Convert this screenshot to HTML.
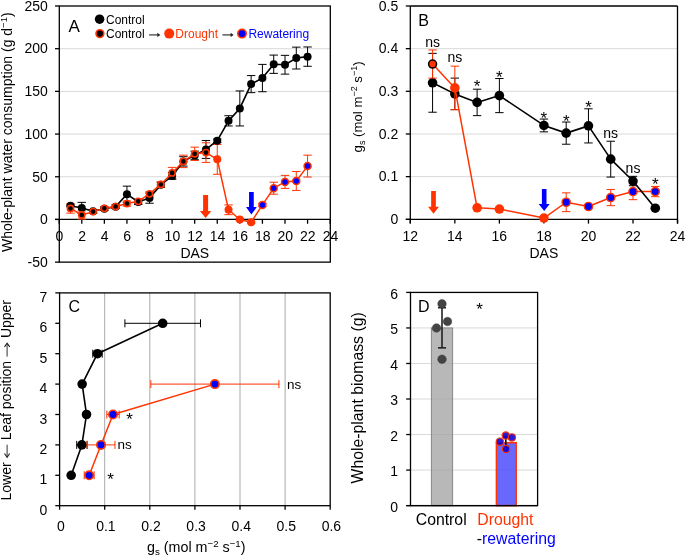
<!DOCTYPE html>
<html><head><meta charset="utf-8"><style>
html,body{margin:0;padding:0;background:#fff;width:685px;height:555px;overflow:hidden}
svg{display:block;will-change:transform}
text{font-family:"Liberation Sans", sans-serif}
</style></head><body>
<svg width="685" height="555" viewBox="0 0 685 555">

<line x1="59.3" y1="176.76" x2="330.3" y2="176.76" stroke="#d9d9d9" stroke-width="1.0" />
<line x1="59.3" y1="134.07" x2="330.3" y2="134.07" stroke="#d9d9d9" stroke-width="1.0" />
<line x1="59.3" y1="91.38" x2="330.3" y2="91.38" stroke="#d9d9d9" stroke-width="1.0" />
<line x1="59.3" y1="48.69" x2="330.3" y2="48.69" stroke="#d9d9d9" stroke-width="1.0" />
<rect x="59.3" y="6" width="271" height="256.14" fill="none" stroke="#000" stroke-width="1.3"/>
<line x1="55" y1="219.45" x2="330.3" y2="219.45" stroke="#000" stroke-width="1.3" />
<line x1="55" y1="262.14" x2="59.3" y2="262.14" stroke="#000" stroke-width="1.3" />
<text x="47.8" y="266.94" font-size="14" text-anchor="end" fill="#000" >-50</text>
<line x1="55" y1="219.45" x2="59.3" y2="219.45" stroke="#000" stroke-width="1.3" />
<text x="47.8" y="224.25" font-size="14" text-anchor="end" fill="#000" >0</text>
<line x1="55" y1="176.76" x2="59.3" y2="176.76" stroke="#000" stroke-width="1.3" />
<text x="47.8" y="181.56" font-size="14" text-anchor="end" fill="#000" >50</text>
<line x1="55" y1="134.07" x2="59.3" y2="134.07" stroke="#000" stroke-width="1.3" />
<text x="47.8" y="138.87" font-size="14" text-anchor="end" fill="#000" >100</text>
<line x1="55" y1="91.38" x2="59.3" y2="91.38" stroke="#000" stroke-width="1.3" />
<text x="47.8" y="96.18" font-size="14" text-anchor="end" fill="#000" >150</text>
<line x1="55" y1="48.69" x2="59.3" y2="48.69" stroke="#000" stroke-width="1.3" />
<text x="47.8" y="53.49" font-size="14" text-anchor="end" fill="#000" >200</text>
<line x1="55" y1="6" x2="59.3" y2="6" stroke="#000" stroke-width="1.3" />
<text x="47.8" y="10.8" font-size="14" text-anchor="end" fill="#000" >250</text>
<line x1="59.2" y1="219.45" x2="59.2" y2="223.75" stroke="#000" stroke-width="1.3" />
<text x="59.5" y="240.8" font-size="14" text-anchor="middle" fill="#000" >0</text>
<line x1="81.78" y1="219.45" x2="81.78" y2="223.75" stroke="#000" stroke-width="1.3" />
<text x="82.08" y="240.8" font-size="14" text-anchor="middle" fill="#000" >2</text>
<line x1="104.36" y1="219.45" x2="104.36" y2="223.75" stroke="#000" stroke-width="1.3" />
<text x="104.66" y="240.8" font-size="14" text-anchor="middle" fill="#000" >4</text>
<line x1="126.94" y1="219.45" x2="126.94" y2="223.75" stroke="#000" stroke-width="1.3" />
<text x="127.24" y="240.8" font-size="14" text-anchor="middle" fill="#000" >6</text>
<line x1="149.52" y1="219.45" x2="149.52" y2="223.75" stroke="#000" stroke-width="1.3" />
<text x="149.82" y="240.8" font-size="14" text-anchor="middle" fill="#000" >8</text>
<line x1="172.1" y1="219.45" x2="172.1" y2="223.75" stroke="#000" stroke-width="1.3" />
<text x="172.4" y="240.8" font-size="14" text-anchor="middle" fill="#000" >10</text>
<line x1="194.68" y1="219.45" x2="194.68" y2="223.75" stroke="#000" stroke-width="1.3" />
<text x="194.98" y="240.8" font-size="14" text-anchor="middle" fill="#000" >12</text>
<line x1="217.26" y1="219.45" x2="217.26" y2="223.75" stroke="#000" stroke-width="1.3" />
<text x="217.56" y="240.8" font-size="14" text-anchor="middle" fill="#000" >14</text>
<line x1="239.84" y1="219.45" x2="239.84" y2="223.75" stroke="#000" stroke-width="1.3" />
<text x="240.14" y="240.8" font-size="14" text-anchor="middle" fill="#000" >16</text>
<line x1="262.42" y1="219.45" x2="262.42" y2="223.75" stroke="#000" stroke-width="1.3" />
<text x="262.72" y="240.8" font-size="14" text-anchor="middle" fill="#000" >18</text>
<line x1="285" y1="219.45" x2="285" y2="223.75" stroke="#000" stroke-width="1.3" />
<text x="285.3" y="240.8" font-size="14" text-anchor="middle" fill="#000" >20</text>
<line x1="307.58" y1="219.45" x2="307.58" y2="223.75" stroke="#000" stroke-width="1.3" />
<text x="307.88" y="240.8" font-size="14" text-anchor="middle" fill="#000" >22</text>
<line x1="330.16" y1="219.45" x2="330.16" y2="223.75" stroke="#000" stroke-width="1.3" />
<text x="330.46" y="240.8" font-size="14" text-anchor="middle" fill="#000" >24</text>
<text x="194.8" y="257.8" font-size="14" text-anchor="middle" fill="#000" >DAS</text>
<text x="12" y="132.2" font-size="14" text-anchor="middle" fill="#000" transform="rotate(-90 12 132.2)">Whole-plant water consumption (g d<tspan dy='-5' font-size='9.5'>−1</tspan><tspan dy='5'>)</tspan></text>
<text x="68.5" y="32.1" font-size="17" text-anchor="start" fill="#000" >A</text>
<circle cx="99.6" cy="19.2" r="4.75" fill="#000" stroke="none" stroke-width="0"/>
<text x="106" y="23.6" font-size="12" text-anchor="start" fill="#000" >Control</text>
<circle cx="99.9" cy="33.6" r="3.9" fill="#000" stroke="#ff3300" stroke-width="1.6"/>
<text x="106" y="38" font-size="12" text-anchor="start" fill="#000" >Control</text>
<line x1="149.1" y1="34.9" x2="157.7" y2="34.9" stroke="#444" stroke-width="1.3" />
<polygon points="157.3,32.7 160.4,34.9 157.3,37.1" fill="#222"/>
<circle cx="169.2" cy="33.6" r="5.0" fill="#ff3300" stroke="none" stroke-width="0"/>
<text x="175.3" y="38" font-size="12" text-anchor="start" fill="#ff3300" >Drought</text>
<line x1="222.4" y1="34.9" x2="231" y2="34.9" stroke="#444" stroke-width="1.3" />
<polygon points="230.6,32.7 233.7,34.9 230.6,37.1" fill="#222"/>
<circle cx="242" cy="33.6" r="4.2" fill="#0000ff" stroke="#ff3300" stroke-width="1.6"/>
<text x="248.4" y="38" font-size="12" text-anchor="start" fill="#0000ff" >Rewatering</text>
<line x1="70.49" y1="204.94" x2="70.49" y2="206.64" stroke="#000" stroke-width="1.0" />
<line x1="66.29" y1="204.94" x2="74.69" y2="204.94" stroke="#000" stroke-width="1.0" />
<line x1="66.29" y1="206.64" x2="74.69" y2="206.64" stroke="#000" stroke-width="1.0" />
<line x1="81.78" y1="202.37" x2="81.78" y2="213.47" stroke="#000" stroke-width="1.0" />
<line x1="77.58" y1="202.37" x2="85.98" y2="202.37" stroke="#000" stroke-width="1.0" />
<line x1="77.58" y1="213.47" x2="85.98" y2="213.47" stroke="#000" stroke-width="1.0" />
<line x1="93.07" y1="209.63" x2="93.07" y2="213.05" stroke="#000" stroke-width="1.0" />
<line x1="88.87" y1="209.63" x2="97.27" y2="209.63" stroke="#000" stroke-width="1.0" />
<line x1="88.87" y1="213.05" x2="97.27" y2="213.05" stroke="#000" stroke-width="1.0" />
<line x1="104.36" y1="207.07" x2="104.36" y2="210.49" stroke="#000" stroke-width="1.0" />
<line x1="100.16" y1="207.07" x2="108.56" y2="207.07" stroke="#000" stroke-width="1.0" />
<line x1="100.16" y1="210.49" x2="108.56" y2="210.49" stroke="#000" stroke-width="1.0" />
<line x1="115.65" y1="204.94" x2="115.65" y2="208.35" stroke="#000" stroke-width="1.0" />
<line x1="111.45" y1="204.94" x2="119.85" y2="204.94" stroke="#000" stroke-width="1.0" />
<line x1="111.45" y1="208.35" x2="119.85" y2="208.35" stroke="#000" stroke-width="1.0" />
<line x1="126.94" y1="186.15" x2="126.94" y2="202.37" stroke="#000" stroke-width="1.0" />
<line x1="122.74" y1="186.15" x2="131.14" y2="186.15" stroke="#000" stroke-width="1.0" />
<line x1="122.74" y1="202.37" x2="131.14" y2="202.37" stroke="#000" stroke-width="1.0" />
<line x1="138.23" y1="199.39" x2="138.23" y2="204.51" stroke="#000" stroke-width="1.0" />
<line x1="134.03" y1="199.39" x2="142.43" y2="199.39" stroke="#000" stroke-width="1.0" />
<line x1="134.03" y1="204.51" x2="142.43" y2="204.51" stroke="#000" stroke-width="1.0" />
<line x1="149.52" y1="192.98" x2="149.52" y2="203.23" stroke="#000" stroke-width="1.0" />
<line x1="145.32" y1="192.98" x2="153.72" y2="192.98" stroke="#000" stroke-width="1.0" />
<line x1="145.32" y1="203.23" x2="153.72" y2="203.23" stroke="#000" stroke-width="1.0" />
<line x1="160.81" y1="182.31" x2="160.81" y2="187.43" stroke="#000" stroke-width="1.0" />
<line x1="156.61" y1="182.31" x2="165.01" y2="182.31" stroke="#000" stroke-width="1.0" />
<line x1="156.61" y1="187.43" x2="165.01" y2="187.43" stroke="#000" stroke-width="1.0" />
<line x1="172.1" y1="172.49" x2="172.1" y2="179.32" stroke="#000" stroke-width="1.0" />
<line x1="167.9" y1="172.49" x2="176.3" y2="172.49" stroke="#000" stroke-width="1.0" />
<line x1="167.9" y1="179.32" x2="176.3" y2="179.32" stroke="#000" stroke-width="1.0" />
<line x1="183.39" y1="156.7" x2="183.39" y2="166.09" stroke="#000" stroke-width="1.0" />
<line x1="179.19" y1="156.7" x2="187.59" y2="156.7" stroke="#000" stroke-width="1.0" />
<line x1="179.19" y1="166.09" x2="187.59" y2="166.09" stroke="#000" stroke-width="1.0" />
<line x1="194.68" y1="151.15" x2="194.68" y2="159.68" stroke="#000" stroke-width="1.0" />
<line x1="190.48" y1="151.15" x2="198.88" y2="151.15" stroke="#000" stroke-width="1.0" />
<line x1="190.48" y1="159.68" x2="198.88" y2="159.68" stroke="#000" stroke-width="1.0" />
<line x1="205.97" y1="140.47" x2="205.97" y2="158.4" stroke="#000" stroke-width="1.0" />
<line x1="201.77" y1="140.47" x2="210.17" y2="140.47" stroke="#000" stroke-width="1.0" />
<line x1="201.77" y1="158.4" x2="210.17" y2="158.4" stroke="#000" stroke-width="1.0" />
<line x1="217.26" y1="139.02" x2="217.26" y2="142.44" stroke="#000" stroke-width="1.0" />
<line x1="213.06" y1="139.02" x2="221.46" y2="139.02" stroke="#000" stroke-width="1.0" />
<line x1="213.06" y1="142.44" x2="221.46" y2="142.44" stroke="#000" stroke-width="1.0" />
<line x1="228.55" y1="115.71" x2="228.55" y2="125.96" stroke="#000" stroke-width="1.0" />
<line x1="224.35" y1="115.71" x2="232.75" y2="115.71" stroke="#000" stroke-width="1.0" />
<line x1="224.35" y1="125.96" x2="232.75" y2="125.96" stroke="#000" stroke-width="1.0" />
<line x1="239.84" y1="90.95" x2="239.84" y2="125.96" stroke="#000" stroke-width="1.0" />
<line x1="235.64" y1="90.95" x2="244.04" y2="90.95" stroke="#000" stroke-width="1.0" />
<line x1="235.64" y1="125.96" x2="244.04" y2="125.96" stroke="#000" stroke-width="1.0" />
<line x1="251.13" y1="75.58" x2="251.13" y2="92.66" stroke="#000" stroke-width="1.0" />
<line x1="246.93" y1="75.58" x2="255.33" y2="75.58" stroke="#000" stroke-width="1.0" />
<line x1="246.93" y1="92.66" x2="255.33" y2="92.66" stroke="#000" stroke-width="1.0" />
<line x1="262.42" y1="64.4" x2="262.42" y2="91.72" stroke="#000" stroke-width="1.0" />
<line x1="258.22" y1="64.4" x2="266.62" y2="64.4" stroke="#000" stroke-width="1.0" />
<line x1="258.22" y1="91.72" x2="266.62" y2="91.72" stroke="#000" stroke-width="1.0" />
<line x1="273.71" y1="55.09" x2="273.71" y2="73.36" stroke="#000" stroke-width="1.0" />
<line x1="269.51" y1="55.09" x2="277.91" y2="55.09" stroke="#000" stroke-width="1.0" />
<line x1="269.51" y1="73.36" x2="277.91" y2="73.36" stroke="#000" stroke-width="1.0" />
<line x1="285" y1="55.35" x2="285" y2="74.13" stroke="#000" stroke-width="1.0" />
<line x1="280.8" y1="55.35" x2="289.2" y2="55.35" stroke="#000" stroke-width="1.0" />
<line x1="280.8" y1="74.13" x2="289.2" y2="74.13" stroke="#000" stroke-width="1.0" />
<line x1="296.29" y1="47.15" x2="296.29" y2="69.01" stroke="#000" stroke-width="1.0" />
<line x1="292.09" y1="47.15" x2="300.49" y2="47.15" stroke="#000" stroke-width="1.0" />
<line x1="292.09" y1="69.01" x2="300.49" y2="69.01" stroke="#000" stroke-width="1.0" />
<line x1="307.58" y1="46.98" x2="307.58" y2="66.28" stroke="#000" stroke-width="1.0" />
<line x1="303.38" y1="46.98" x2="311.78" y2="46.98" stroke="#000" stroke-width="1.0" />
<line x1="303.38" y1="66.28" x2="311.78" y2="66.28" stroke="#000" stroke-width="1.0" />
<line x1="70.49" y1="203.74" x2="70.49" y2="213.13" stroke="#ff3300" stroke-width="1.0" />
<line x1="66.29" y1="203.74" x2="74.69" y2="203.74" stroke="#ff3300" stroke-width="1.0" />
<line x1="66.29" y1="213.13" x2="74.69" y2="213.13" stroke="#ff3300" stroke-width="1.0" />
<line x1="81.78" y1="210.91" x2="81.78" y2="219.11" stroke="#ff3300" stroke-width="1.0" />
<line x1="77.58" y1="210.91" x2="85.98" y2="210.91" stroke="#ff3300" stroke-width="1.0" />
<line x1="77.58" y1="219.11" x2="85.98" y2="219.11" stroke="#ff3300" stroke-width="1.0" />
<line x1="93.07" y1="209.89" x2="93.07" y2="213.3" stroke="#ff3300" stroke-width="1.0" />
<line x1="88.87" y1="209.89" x2="97.27" y2="209.89" stroke="#ff3300" stroke-width="1.0" />
<line x1="88.87" y1="213.3" x2="97.27" y2="213.3" stroke="#ff3300" stroke-width="1.0" />
<line x1="104.36" y1="206.64" x2="104.36" y2="210.06" stroke="#ff3300" stroke-width="1.0" />
<line x1="100.16" y1="206.64" x2="108.56" y2="206.64" stroke="#ff3300" stroke-width="1.0" />
<line x1="100.16" y1="210.06" x2="108.56" y2="210.06" stroke="#ff3300" stroke-width="1.0" />
<line x1="115.65" y1="204.85" x2="115.65" y2="208.27" stroke="#ff3300" stroke-width="1.0" />
<line x1="111.45" y1="204.85" x2="119.85" y2="204.85" stroke="#ff3300" stroke-width="1.0" />
<line x1="111.45" y1="208.27" x2="119.85" y2="208.27" stroke="#ff3300" stroke-width="1.0" />
<line x1="126.94" y1="201.01" x2="126.94" y2="206.13" stroke="#ff3300" stroke-width="1.0" />
<line x1="122.74" y1="201.01" x2="131.14" y2="201.01" stroke="#ff3300" stroke-width="1.0" />
<line x1="122.74" y1="206.13" x2="131.14" y2="206.13" stroke="#ff3300" stroke-width="1.0" />
<line x1="138.23" y1="199.64" x2="138.23" y2="203.06" stroke="#ff3300" stroke-width="1.0" />
<line x1="134.03" y1="199.64" x2="142.43" y2="199.64" stroke="#ff3300" stroke-width="1.0" />
<line x1="134.03" y1="203.06" x2="142.43" y2="203.06" stroke="#ff3300" stroke-width="1.0" />
<line x1="149.52" y1="191.7" x2="149.52" y2="195.97" stroke="#ff3300" stroke-width="1.0" />
<line x1="145.32" y1="191.7" x2="153.72" y2="191.7" stroke="#ff3300" stroke-width="1.0" />
<line x1="145.32" y1="195.97" x2="153.72" y2="195.97" stroke="#ff3300" stroke-width="1.0" />
<line x1="160.81" y1="181.88" x2="160.81" y2="187.01" stroke="#ff3300" stroke-width="1.0" />
<line x1="156.61" y1="181.88" x2="165.01" y2="181.88" stroke="#ff3300" stroke-width="1.0" />
<line x1="156.61" y1="187.01" x2="165.01" y2="187.01" stroke="#ff3300" stroke-width="1.0" />
<line x1="172.1" y1="167.37" x2="172.1" y2="178.47" stroke="#ff3300" stroke-width="1.0" />
<line x1="167.9" y1="167.37" x2="176.3" y2="167.37" stroke="#ff3300" stroke-width="1.0" />
<line x1="167.9" y1="178.47" x2="176.3" y2="178.47" stroke="#ff3300" stroke-width="1.0" />
<line x1="183.39" y1="155.16" x2="183.39" y2="167.62" stroke="#ff3300" stroke-width="1.0" />
<line x1="179.19" y1="155.16" x2="187.59" y2="155.16" stroke="#ff3300" stroke-width="1.0" />
<line x1="179.19" y1="167.62" x2="187.59" y2="167.62" stroke="#ff3300" stroke-width="1.0" />
<line x1="194.68" y1="147.13" x2="194.68" y2="160.45" stroke="#ff3300" stroke-width="1.0" />
<line x1="190.48" y1="147.13" x2="198.88" y2="147.13" stroke="#ff3300" stroke-width="1.0" />
<line x1="190.48" y1="160.45" x2="198.88" y2="160.45" stroke="#ff3300" stroke-width="1.0" />
<line x1="205.97" y1="142.78" x2="205.97" y2="162.42" stroke="#ff3300" stroke-width="1.0" />
<line x1="201.77" y1="142.78" x2="210.17" y2="142.78" stroke="#ff3300" stroke-width="1.0" />
<line x1="201.77" y1="162.42" x2="210.17" y2="162.42" stroke="#ff3300" stroke-width="1.0" />
<line x1="217.26" y1="144.4" x2="217.26" y2="174.28" stroke="#ff3300" stroke-width="1.0" />
<line x1="213.06" y1="144.4" x2="221.46" y2="144.4" stroke="#ff3300" stroke-width="1.0" />
<line x1="213.06" y1="174.28" x2="221.46" y2="174.28" stroke="#ff3300" stroke-width="1.0" />
<line x1="228.55" y1="204.94" x2="228.55" y2="214.67" stroke="#ff3300" stroke-width="1.0" />
<line x1="224.35" y1="204.94" x2="232.75" y2="204.94" stroke="#ff3300" stroke-width="1.0" />
<line x1="224.35" y1="214.67" x2="232.75" y2="214.67" stroke="#ff3300" stroke-width="1.0" />
<line x1="239.84" y1="218.6" x2="239.84" y2="220.3" stroke="#ff3300" stroke-width="1.0" />
<line x1="235.64" y1="218.6" x2="244.04" y2="218.6" stroke="#ff3300" stroke-width="1.0" />
<line x1="235.64" y1="220.3" x2="244.04" y2="220.3" stroke="#ff3300" stroke-width="1.0" />
<line x1="251.13" y1="221.41" x2="251.13" y2="223.12" stroke="#ff3300" stroke-width="1.0" />
<line x1="246.93" y1="221.41" x2="255.33" y2="221.41" stroke="#ff3300" stroke-width="1.0" />
<line x1="246.93" y1="223.12" x2="255.33" y2="223.12" stroke="#ff3300" stroke-width="1.0" />
<line x1="262.42" y1="203.23" x2="262.42" y2="206.64" stroke="#ff3300" stroke-width="1.0" />
<line x1="258.22" y1="203.23" x2="266.62" y2="203.23" stroke="#ff3300" stroke-width="1.0" />
<line x1="258.22" y1="206.64" x2="266.62" y2="206.64" stroke="#ff3300" stroke-width="1.0" />
<line x1="273.71" y1="182.22" x2="273.71" y2="194.18" stroke="#ff3300" stroke-width="1.0" />
<line x1="269.51" y1="182.22" x2="277.91" y2="182.22" stroke="#ff3300" stroke-width="1.0" />
<line x1="269.51" y1="194.18" x2="277.91" y2="194.18" stroke="#ff3300" stroke-width="1.0" />
<line x1="285" y1="175.39" x2="285" y2="188.37" stroke="#ff3300" stroke-width="1.0" />
<line x1="280.8" y1="175.39" x2="289.2" y2="175.39" stroke="#ff3300" stroke-width="1.0" />
<line x1="280.8" y1="188.37" x2="289.2" y2="188.37" stroke="#ff3300" stroke-width="1.0" />
<line x1="296.29" y1="171.47" x2="296.29" y2="190.42" stroke="#ff3300" stroke-width="1.0" />
<line x1="292.09" y1="171.47" x2="300.49" y2="171.47" stroke="#ff3300" stroke-width="1.0" />
<line x1="292.09" y1="190.42" x2="300.49" y2="190.42" stroke="#ff3300" stroke-width="1.0" />
<line x1="307.58" y1="155.16" x2="307.58" y2="177.02" stroke="#ff3300" stroke-width="1.0" />
<line x1="303.38" y1="155.16" x2="311.78" y2="155.16" stroke="#ff3300" stroke-width="1.0" />
<line x1="303.38" y1="177.02" x2="311.78" y2="177.02" stroke="#ff3300" stroke-width="1.0" />
<polyline points="70.49,205.79 81.78,207.92 93.07,211.34 104.36,208.78 115.65,206.64 126.94,194.26 138.23,201.95 149.52,198.1 160.81,184.87 172.1,175.91 183.39,161.39 194.68,155.41 205.97,149.44 217.26,140.73 228.55,120.84 239.84,108.46 251.13,84.12 262.42,78.06 273.71,64.23 285,64.74 296.29,58.08 307.58,56.63" fill="none" stroke="#000" stroke-width="1.6" stroke-linejoin="round"/>
<circle cx="70.49" cy="205.79" r="4.0" fill="#000" stroke="none" stroke-width="0"/>
<circle cx="81.78" cy="207.92" r="4.0" fill="#000" stroke="none" stroke-width="0"/>
<circle cx="93.07" cy="211.34" r="4.0" fill="#000" stroke="none" stroke-width="0"/>
<circle cx="104.36" cy="208.78" r="4.0" fill="#000" stroke="none" stroke-width="0"/>
<circle cx="115.65" cy="206.64" r="4.0" fill="#000" stroke="none" stroke-width="0"/>
<circle cx="126.94" cy="194.26" r="4.0" fill="#000" stroke="none" stroke-width="0"/>
<circle cx="138.23" cy="201.95" r="4.0" fill="#000" stroke="none" stroke-width="0"/>
<circle cx="149.52" cy="198.1" r="4.0" fill="#000" stroke="none" stroke-width="0"/>
<circle cx="160.81" cy="184.87" r="4.0" fill="#000" stroke="none" stroke-width="0"/>
<circle cx="172.1" cy="175.91" r="4.0" fill="#000" stroke="none" stroke-width="0"/>
<circle cx="183.39" cy="161.39" r="4.0" fill="#000" stroke="none" stroke-width="0"/>
<circle cx="194.68" cy="155.41" r="4.0" fill="#000" stroke="none" stroke-width="0"/>
<circle cx="205.97" cy="149.44" r="4.0" fill="#000" stroke="none" stroke-width="0"/>
<circle cx="217.26" cy="140.73" r="4.0" fill="#000" stroke="none" stroke-width="0"/>
<circle cx="228.55" cy="120.84" r="4.0" fill="#000" stroke="none" stroke-width="0"/>
<circle cx="239.84" cy="108.46" r="4.0" fill="#000" stroke="none" stroke-width="0"/>
<circle cx="251.13" cy="84.12" r="4.0" fill="#000" stroke="none" stroke-width="0"/>
<circle cx="262.42" cy="78.06" r="4.0" fill="#000" stroke="none" stroke-width="0"/>
<circle cx="273.71" cy="64.23" r="4.0" fill="#000" stroke="none" stroke-width="0"/>
<circle cx="285" cy="64.74" r="4.0" fill="#000" stroke="none" stroke-width="0"/>
<circle cx="296.29" cy="58.08" r="4.0" fill="#000" stroke="none" stroke-width="0"/>
<circle cx="307.58" cy="56.63" r="4.0" fill="#000" stroke="none" stroke-width="0"/>
<polyline points="70.49,208.44 81.78,215.01 93.07,211.6 104.36,208.35 115.65,206.56 126.94,203.57 138.23,201.35 149.52,193.84 160.81,184.44 172.1,172.92 183.39,161.39 194.68,153.79 205.97,152.6 217.26,159.34 228.55,209.8 239.84,219.45 251.13,222.27 262.42,204.94 273.71,188.2 285,181.88 296.29,180.94 307.58,166.09" fill="none" stroke="#ff3300" stroke-width="1.5" stroke-linejoin="round"/>
<circle cx="70.49" cy="208.44" r="3.1" fill="#000" stroke="#ff3300" stroke-width="1.6"/>
<circle cx="81.78" cy="215.01" r="3.1" fill="#000" stroke="#ff3300" stroke-width="1.6"/>
<circle cx="93.07" cy="211.6" r="3.1" fill="#000" stroke="#ff3300" stroke-width="1.6"/>
<circle cx="104.36" cy="208.35" r="3.1" fill="#000" stroke="#ff3300" stroke-width="1.6"/>
<circle cx="115.65" cy="206.56" r="3.1" fill="#000" stroke="#ff3300" stroke-width="1.6"/>
<circle cx="126.94" cy="203.57" r="3.1" fill="#000" stroke="#ff3300" stroke-width="1.6"/>
<circle cx="138.23" cy="201.35" r="3.1" fill="#000" stroke="#ff3300" stroke-width="1.6"/>
<circle cx="149.52" cy="193.84" r="3.1" fill="#000" stroke="#ff3300" stroke-width="1.6"/>
<circle cx="160.81" cy="184.44" r="3.1" fill="#000" stroke="#ff3300" stroke-width="1.6"/>
<circle cx="172.1" cy="172.92" r="3.1" fill="#000" stroke="#ff3300" stroke-width="1.6"/>
<circle cx="183.39" cy="161.39" r="3.1" fill="#000" stroke="#ff3300" stroke-width="1.6"/>
<circle cx="194.68" cy="153.79" r="3.1" fill="#000" stroke="#ff3300" stroke-width="1.6"/>
<circle cx="205.97" cy="152.6" r="3.1" fill="#000" stroke="#ff3300" stroke-width="1.6"/>
<circle cx="217.26" cy="159.34" r="4.0" fill="#ff3300" stroke="none" stroke-width="0"/>
<circle cx="228.55" cy="209.8" r="4.0" fill="#ff3300" stroke="none" stroke-width="0"/>
<circle cx="239.84" cy="219.45" r="4.0" fill="#ff3300" stroke="none" stroke-width="0"/>
<circle cx="251.13" cy="222.27" r="4.0" fill="#ff3300" stroke="none" stroke-width="0"/>
<circle cx="262.42" cy="204.94" r="3.5" fill="#0000ff" stroke="#ff3300" stroke-width="1.5"/>
<circle cx="273.71" cy="188.2" r="3.5" fill="#0000ff" stroke="#ff3300" stroke-width="1.5"/>
<circle cx="285" cy="181.88" r="3.5" fill="#0000ff" stroke="#ff3300" stroke-width="1.5"/>
<circle cx="296.29" cy="180.94" r="3.5" fill="#0000ff" stroke="#ff3300" stroke-width="1.5"/>
<circle cx="307.58" cy="166.09" r="3.5" fill="#0000ff" stroke="#ff3300" stroke-width="1.5"/>
<polygon points="203.1,195 208.1,195 208.1,210.9 211.3,210.9 205.6,218 199.9,210.9 203.1,210.9" fill="#ff3300"/>
<polygon points="249.05,192.1 253.75,192.1 253.75,207.1 256.8,207.1 251.4,214.6 246,207.1 249.05,207.1" fill="#0000ff"/>
<line x1="410.3" y1="176.64" x2="677.5" y2="176.64" stroke="#d9d9d9" stroke-width="1.0" />
<line x1="410.3" y1="133.98" x2="677.5" y2="133.98" stroke="#d9d9d9" stroke-width="1.0" />
<line x1="410.3" y1="91.32" x2="677.5" y2="91.32" stroke="#d9d9d9" stroke-width="1.0" />
<line x1="410.3" y1="48.66" x2="677.5" y2="48.66" stroke="#d9d9d9" stroke-width="1.0" />
<line x1="410.3" y1="6" x2="677.5" y2="6" stroke="#000" stroke-width="1.3" />
<line x1="410.3" y1="6" x2="410.3" y2="223.6" stroke="#000" stroke-width="1.3" />
<line x1="677.5" y1="6" x2="677.5" y2="223.6" stroke="#000" stroke-width="1.3" />
<line x1="405.8" y1="219.3" x2="677.5" y2="219.3" stroke="#000" stroke-width="1.3" />
<line x1="405.8" y1="219.3" x2="410.3" y2="219.3" stroke="#000" stroke-width="1.3" />
<text x="398.2" y="224.1" font-size="14" text-anchor="end" fill="#000" >0</text>
<line x1="405.8" y1="176.64" x2="410.3" y2="176.64" stroke="#000" stroke-width="1.3" />
<text x="398.2" y="181.44" font-size="14" text-anchor="end" fill="#000" >0.1</text>
<line x1="405.8" y1="133.98" x2="410.3" y2="133.98" stroke="#000" stroke-width="1.3" />
<text x="398.2" y="138.78" font-size="14" text-anchor="end" fill="#000" >0.2</text>
<line x1="405.8" y1="91.32" x2="410.3" y2="91.32" stroke="#000" stroke-width="1.3" />
<text x="398.2" y="96.12" font-size="14" text-anchor="end" fill="#000" >0.3</text>
<line x1="405.8" y1="48.66" x2="410.3" y2="48.66" stroke="#000" stroke-width="1.3" />
<text x="398.2" y="53.46" font-size="14" text-anchor="end" fill="#000" >0.4</text>
<line x1="405.8" y1="6" x2="410.3" y2="6" stroke="#000" stroke-width="1.3" />
<text x="398.2" y="10.8" font-size="14" text-anchor="end" fill="#000" >0.5</text>
<line x1="410.3" y1="219.3" x2="410.3" y2="223.6" stroke="#000" stroke-width="1.3" />
<text x="410.3" y="240.8" font-size="14" text-anchor="middle" fill="#000" >12</text>
<line x1="454.84" y1="219.3" x2="454.84" y2="223.6" stroke="#000" stroke-width="1.3" />
<text x="454.84" y="240.8" font-size="14" text-anchor="middle" fill="#000" >14</text>
<line x1="499.38" y1="219.3" x2="499.38" y2="223.6" stroke="#000" stroke-width="1.3" />
<text x="499.38" y="240.8" font-size="14" text-anchor="middle" fill="#000" >16</text>
<line x1="543.92" y1="219.3" x2="543.92" y2="223.6" stroke="#000" stroke-width="1.3" />
<text x="543.92" y="240.8" font-size="14" text-anchor="middle" fill="#000" >18</text>
<line x1="588.46" y1="219.3" x2="588.46" y2="223.6" stroke="#000" stroke-width="1.3" />
<text x="588.46" y="240.8" font-size="14" text-anchor="middle" fill="#000" >20</text>
<line x1="633" y1="219.3" x2="633" y2="223.6" stroke="#000" stroke-width="1.3" />
<text x="633" y="240.8" font-size="14" text-anchor="middle" fill="#000" >22</text>
<line x1="677.54" y1="219.3" x2="677.54" y2="223.6" stroke="#000" stroke-width="1.3" />
<text x="677.54" y="240.8" font-size="14" text-anchor="middle" fill="#000" >24</text>
<text x="543.9" y="257.8" font-size="14" text-anchor="middle" fill="#000" >DAS</text>
<text x="362" y="106.9" font-size="13.2" text-anchor="middle" fill="#000" transform="rotate(-90 362 106.9)">g<tspan dy='3' font-size='9'>s</tspan><tspan dy='-3'> (mol m</tspan><tspan dy='-5' font-size='9'>−2</tspan><tspan dy='5'> s</tspan><tspan dy='-5' font-size='9'>−1</tspan><tspan dy='5'>)</tspan></text>
<text x="418.3" y="25.7" font-size="16" text-anchor="start" fill="#000" >B</text>
<line x1="566.19" y1="192.85" x2="566.19" y2="211.62" stroke="#ff3300" stroke-width="1.0" />
<line x1="561.99" y1="192.85" x2="570.39" y2="192.85" stroke="#ff3300" stroke-width="1.0" />
<line x1="561.99" y1="211.62" x2="570.39" y2="211.62" stroke="#ff3300" stroke-width="1.0" />
<line x1="588.46" y1="204.37" x2="588.46" y2="208.64" stroke="#ff3300" stroke-width="1.0" />
<line x1="584.26" y1="204.37" x2="592.66" y2="204.37" stroke="#ff3300" stroke-width="1.0" />
<line x1="584.26" y1="208.64" x2="592.66" y2="208.64" stroke="#ff3300" stroke-width="1.0" />
<line x1="610.73" y1="189.44" x2="610.73" y2="205.65" stroke="#ff3300" stroke-width="1.0" />
<line x1="606.53" y1="189.44" x2="614.93" y2="189.44" stroke="#ff3300" stroke-width="1.0" />
<line x1="606.53" y1="205.65" x2="614.93" y2="205.65" stroke="#ff3300" stroke-width="1.0" />
<line x1="633" y1="183.47" x2="633" y2="199.68" stroke="#ff3300" stroke-width="1.0" />
<line x1="628.8" y1="183.47" x2="637.2" y2="183.47" stroke="#ff3300" stroke-width="1.0" />
<line x1="628.8" y1="199.68" x2="637.2" y2="199.68" stroke="#ff3300" stroke-width="1.0" />
<line x1="655.27" y1="186.45" x2="655.27" y2="196.69" stroke="#ff3300" stroke-width="1.0" />
<line x1="651.07" y1="186.45" x2="659.47" y2="186.45" stroke="#ff3300" stroke-width="1.0" />
<line x1="651.07" y1="196.69" x2="659.47" y2="196.69" stroke="#ff3300" stroke-width="1.0" />
<polyline points="543.92,218.02 566.19,202.24 588.46,206.5 610.73,197.54 633,191.57 655.27,191.57" fill="none" stroke="#ff3300" stroke-width="1.5" stroke-linejoin="round"/>
<circle cx="566.19" cy="202.24" r="4.1" fill="#0000ff" stroke="#ff3300" stroke-width="1.4"/>
<circle cx="588.46" cy="206.5" r="4.1" fill="#0000ff" stroke="#ff3300" stroke-width="1.4"/>
<circle cx="610.73" cy="197.54" r="4.1" fill="#0000ff" stroke="#ff3300" stroke-width="1.4"/>
<circle cx="633" cy="191.57" r="4.1" fill="#0000ff" stroke="#ff3300" stroke-width="1.4"/>
<circle cx="655.27" cy="191.57" r="4.1" fill="#0000ff" stroke="#ff3300" stroke-width="1.4"/>
<line x1="432.57" y1="53.35" x2="432.57" y2="112.22" stroke="#000" stroke-width="1.0" />
<line x1="428.37" y1="53.35" x2="436.77" y2="53.35" stroke="#000" stroke-width="1.0" />
<line x1="428.37" y1="112.22" x2="436.77" y2="112.22" stroke="#000" stroke-width="1.0" />
<line x1="454.84" y1="78.1" x2="454.84" y2="109.66" stroke="#000" stroke-width="1.0" />
<line x1="450.64" y1="78.1" x2="459.04" y2="78.1" stroke="#000" stroke-width="1.0" />
<line x1="450.64" y1="109.66" x2="459.04" y2="109.66" stroke="#000" stroke-width="1.0" />
<line x1="477.11" y1="89.19" x2="477.11" y2="115.64" stroke="#000" stroke-width="1.0" />
<line x1="472.91" y1="89.19" x2="481.31" y2="89.19" stroke="#000" stroke-width="1.0" />
<line x1="472.91" y1="115.64" x2="481.31" y2="115.64" stroke="#000" stroke-width="1.0" />
<line x1="499.38" y1="78.52" x2="499.38" y2="112.65" stroke="#000" stroke-width="1.0" />
<line x1="495.18" y1="78.52" x2="503.58" y2="78.52" stroke="#000" stroke-width="1.0" />
<line x1="495.18" y1="112.65" x2="503.58" y2="112.65" stroke="#000" stroke-width="1.0" />
<line x1="543.92" y1="119.05" x2="543.92" y2="131.85" stroke="#000" stroke-width="1.0" />
<line x1="539.72" y1="119.05" x2="548.12" y2="119.05" stroke="#000" stroke-width="1.0" />
<line x1="539.72" y1="131.85" x2="548.12" y2="131.85" stroke="#000" stroke-width="1.0" />
<line x1="566.19" y1="122.04" x2="566.19" y2="144.22" stroke="#000" stroke-width="1.0" />
<line x1="561.99" y1="122.04" x2="570.39" y2="122.04" stroke="#000" stroke-width="1.0" />
<line x1="561.99" y1="144.22" x2="570.39" y2="144.22" stroke="#000" stroke-width="1.0" />
<line x1="588.46" y1="108.81" x2="588.46" y2="142.94" stroke="#000" stroke-width="1.0" />
<line x1="584.26" y1="108.81" x2="592.66" y2="108.81" stroke="#000" stroke-width="1.0" />
<line x1="584.26" y1="142.94" x2="592.66" y2="142.94" stroke="#000" stroke-width="1.0" />
<line x1="610.73" y1="141.23" x2="610.73" y2="177.07" stroke="#000" stroke-width="1.0" />
<line x1="606.53" y1="141.23" x2="614.93" y2="141.23" stroke="#000" stroke-width="1.0" />
<line x1="606.53" y1="177.07" x2="614.93" y2="177.07" stroke="#000" stroke-width="1.0" />
<line x1="633" y1="176.34" x2="633" y2="185.73" stroke="#000" stroke-width="1.0" />
<line x1="628.8" y1="176.34" x2="637.2" y2="176.34" stroke="#000" stroke-width="1.0" />
<line x1="628.8" y1="185.73" x2="637.2" y2="185.73" stroke="#000" stroke-width="1.0" />
<line x1="655.27" y1="207.36" x2="655.27" y2="209.06" stroke="#000" stroke-width="1.0" />
<line x1="651.07" y1="207.36" x2="659.47" y2="207.36" stroke="#000" stroke-width="1.0" />
<line x1="651.07" y1="209.06" x2="659.47" y2="209.06" stroke="#000" stroke-width="1.0" />
<polyline points="432.57,82.79 454.84,93.88 477.11,102.41 499.38,95.59 543.92,125.45 566.19,133.13 588.46,125.87 610.73,159.15 633,181.03 655.27,208.21" fill="none" stroke="#000" stroke-width="1.6" stroke-linejoin="round"/>
<circle cx="432.57" cy="82.79" r="4.8" fill="#000" stroke="none" stroke-width="0"/>
<circle cx="454.84" cy="93.88" r="4.8" fill="#000" stroke="none" stroke-width="0"/>
<circle cx="477.11" cy="102.41" r="4.8" fill="#000" stroke="none" stroke-width="0"/>
<circle cx="499.38" cy="95.59" r="4.8" fill="#000" stroke="none" stroke-width="0"/>
<circle cx="543.92" cy="125.45" r="4.8" fill="#000" stroke="none" stroke-width="0"/>
<circle cx="566.19" cy="133.13" r="4.8" fill="#000" stroke="none" stroke-width="0"/>
<circle cx="588.46" cy="125.87" r="4.8" fill="#000" stroke="none" stroke-width="0"/>
<circle cx="610.73" cy="159.15" r="4.8" fill="#000" stroke="none" stroke-width="0"/>
<circle cx="633" cy="181.03" r="4.8" fill="#000" stroke="none" stroke-width="0"/>
<circle cx="655.27" cy="208.21" r="4.8" fill="#000" stroke="none" stroke-width="0"/>
<line x1="432.57" y1="49.94" x2="432.57" y2="78.1" stroke="#ff3300" stroke-width="1.0" />
<line x1="428.37" y1="49.94" x2="436.77" y2="49.94" stroke="#ff3300" stroke-width="1.0" />
<line x1="428.37" y1="78.1" x2="436.77" y2="78.1" stroke="#ff3300" stroke-width="1.0" />
<line x1="454.84" y1="66.15" x2="454.84" y2="109.66" stroke="#ff3300" stroke-width="1.0" />
<line x1="450.64" y1="66.15" x2="459.04" y2="66.15" stroke="#ff3300" stroke-width="1.0" />
<line x1="450.64" y1="109.66" x2="459.04" y2="109.66" stroke="#ff3300" stroke-width="1.0" />
<polyline points="432.57,64.02 454.84,87.91 477.11,207.78 499.38,209.06 543.92,218.02" fill="none" stroke="#ff3300" stroke-width="1.5" stroke-linejoin="round"/>
<circle cx="432.57" cy="64.02" r="4.0" fill="#ff3300" stroke="#000" stroke-width="1.5"/>
<circle cx="454.84" cy="87.91" r="4.8" fill="#ff3300" stroke="none" stroke-width="0"/>
<circle cx="477.11" cy="207.78" r="4.8" fill="#ff3300" stroke="none" stroke-width="0"/>
<circle cx="499.38" cy="209.06" r="4.8" fill="#ff3300" stroke="none" stroke-width="0"/>
<circle cx="543.92" cy="218.02" r="4.8" fill="#ff3300" stroke="none" stroke-width="0"/>
<polygon points="431.15,190.9 435.85,190.9 435.85,206.8 438.95,206.8 433.5,213.8 428.05,206.8 431.15,206.8" fill="#ff3300"/>
<polygon points="541.9,188.9 546.5,188.9 546.5,204 549.7,204 544.2,211 538.7,204 541.9,204" fill="#0000ff"/>
<text x="432.57" y="46.5" font-size="14" text-anchor="middle" fill="#000" >ns</text>
<text x="454.84" y="62.4" font-size="14" text-anchor="middle" fill="#000" >ns</text>
<text x="610.73" y="138" font-size="14" text-anchor="middle" fill="#000" >ns</text>
<text x="633" y="172.5" font-size="14" text-anchor="middle" fill="#000" >ns</text>
<text x="477.11" y="92.05" font-size="17" text-anchor="middle" fill="#000" >*</text>
<text x="499.38" y="83.35" font-size="17" text-anchor="middle" fill="#000" >*</text>
<text x="543.92" y="123.75" font-size="17" text-anchor="middle" fill="#000" >*</text>
<text x="566.19" y="126.65" font-size="17" text-anchor="middle" fill="#000" >*</text>
<text x="588.46" y="113.35" font-size="17" text-anchor="middle" fill="#000" >*</text>
<text x="655.27" y="189.85" font-size="17" text-anchor="middle" fill="#000" >*</text>
<line x1="104.7" y1="292.9" x2="104.7" y2="505.7" stroke="#a8a8a8" stroke-width="1.0" />
<line x1="149.8" y1="292.9" x2="149.8" y2="505.7" stroke="#a8a8a8" stroke-width="1.0" />
<line x1="194.9" y1="292.9" x2="194.9" y2="505.7" stroke="#a8a8a8" stroke-width="1.0" />
<line x1="240" y1="292.9" x2="240" y2="505.7" stroke="#a8a8a8" stroke-width="1.0" />
<line x1="285.1" y1="292.9" x2="285.1" y2="505.7" stroke="#a8a8a8" stroke-width="1.0" />
<rect x="59.6" y="292.9" width="270.6" height="212.8" fill="none" stroke="#000" stroke-width="1.3"/>
<line x1="55.3" y1="505.7" x2="59.6" y2="505.7" stroke="#000" stroke-width="1.3" />
<text x="47.2" y="514.7" font-size="14" text-anchor="end" fill="#000" >0</text>
<line x1="55.3" y1="475.3" x2="59.6" y2="475.3" stroke="#000" stroke-width="1.3" />
<text x="47.2" y="484.3" font-size="14" text-anchor="end" fill="#000" >1</text>
<line x1="55.3" y1="444.9" x2="59.6" y2="444.9" stroke="#000" stroke-width="1.3" />
<text x="47.2" y="453.9" font-size="14" text-anchor="end" fill="#000" >2</text>
<line x1="55.3" y1="414.5" x2="59.6" y2="414.5" stroke="#000" stroke-width="1.3" />
<text x="47.2" y="423.5" font-size="14" text-anchor="end" fill="#000" >3</text>
<line x1="55.3" y1="384.1" x2="59.6" y2="384.1" stroke="#000" stroke-width="1.3" />
<text x="47.2" y="393.1" font-size="14" text-anchor="end" fill="#000" >4</text>
<line x1="55.3" y1="353.7" x2="59.6" y2="353.7" stroke="#000" stroke-width="1.3" />
<text x="47.2" y="362.7" font-size="14" text-anchor="end" fill="#000" >5</text>
<line x1="55.3" y1="323.3" x2="59.6" y2="323.3" stroke="#000" stroke-width="1.3" />
<text x="47.2" y="332.3" font-size="14" text-anchor="end" fill="#000" >6</text>
<line x1="55.3" y1="292.9" x2="59.6" y2="292.9" stroke="#000" stroke-width="1.3" />
<text x="47.2" y="301.9" font-size="14" text-anchor="end" fill="#000" >7</text>
<line x1="59.6" y1="505.7" x2="59.6" y2="509.7" stroke="#000" stroke-width="1.3" />
<text x="60.8" y="531.2" font-size="14" text-anchor="middle" fill="#000" >0</text>
<line x1="104.7" y1="505.7" x2="104.7" y2="509.7" stroke="#000" stroke-width="1.3" />
<text x="105.9" y="531.2" font-size="14" text-anchor="middle" fill="#000" >0.1</text>
<line x1="149.8" y1="505.7" x2="149.8" y2="509.7" stroke="#000" stroke-width="1.3" />
<text x="151" y="531.2" font-size="14" text-anchor="middle" fill="#000" >0.2</text>
<line x1="194.9" y1="505.7" x2="194.9" y2="509.7" stroke="#000" stroke-width="1.3" />
<text x="196.1" y="531.2" font-size="14" text-anchor="middle" fill="#000" >0.3</text>
<line x1="240" y1="505.7" x2="240" y2="509.7" stroke="#000" stroke-width="1.3" />
<text x="241.2" y="531.2" font-size="14" text-anchor="middle" fill="#000" >0.4</text>
<line x1="285.1" y1="505.7" x2="285.1" y2="509.7" stroke="#000" stroke-width="1.3" />
<text x="286.3" y="531.2" font-size="14" text-anchor="middle" fill="#000" >0.5</text>
<line x1="330.2" y1="505.7" x2="330.2" y2="509.7" stroke="#000" stroke-width="1.3" />
<text x="331.4" y="531.2" font-size="14" text-anchor="middle" fill="#000" >0.6</text>
<text x="196.3" y="551.6" font-size="14.3" text-anchor="middle" fill="#000" >g<tspan dy='3' font-size='9.7'>s</tspan><tspan dy='-3'> (mol m</tspan><tspan dy='-5' font-size='9.7'>−2</tspan><tspan dy='5'> s</tspan><tspan dy='-5' font-size='9.7'>−1</tspan><tspan dy='5'>)</tspan></text>
<g transform="translate(10.8 499.9) rotate(-90)">
<text x="-0.6" y="0" font-size="14" text-anchor="start" fill="#000" >Lower</text>
<text x="59.6" y="0" font-size="14" text-anchor="start" fill="#000" >Leaf position</text>
<text x="161.8" y="0" font-size="14" text-anchor="start" fill="#000" >Upper</text>
<line x1="42.6" y1="-3.7" x2="55.2" y2="-3.7" stroke="#333" stroke-width="1.0" />
<polyline points="46.4,-6.3 42.6,-3.7 46.4,-1.1" fill="none" stroke="#222" stroke-width="1.1"/>
<line x1="143.3" y1="-3.7" x2="156.2" y2="-3.7" stroke="#333" stroke-width="1.0" />
<polyline points="153.0,-6.3 156.8,-3.7 153.0,-1.1" fill="none" stroke="#222" stroke-width="1.1"/>
</g>
<text x="68.4" y="311.9" font-size="16" text-anchor="start" fill="#000" >C</text>
<line x1="76.69" y1="444.9" x2="87.07" y2="444.9" stroke="#000" stroke-width="1.0" />
<line x1="76.69" y1="440.9" x2="76.69" y2="448.9" stroke="#000" stroke-width="1.0" />
<line x1="87.07" y1="440.9" x2="87.07" y2="448.9" stroke="#000" stroke-width="1.0" />
<line x1="92.75" y1="353.7" x2="102.22" y2="353.7" stroke="#000" stroke-width="1.0" />
<line x1="92.75" y1="349.7" x2="92.75" y2="357.7" stroke="#000" stroke-width="1.0" />
<line x1="102.22" y1="349.7" x2="102.22" y2="357.7" stroke="#000" stroke-width="1.0" />
<line x1="124.9" y1="323.3" x2="200.49" y2="323.3" stroke="#000" stroke-width="1.0" />
<line x1="124.9" y1="319.3" x2="124.9" y2="327.3" stroke="#000" stroke-width="1.0" />
<line x1="200.49" y1="319.3" x2="200.49" y2="327.3" stroke="#000" stroke-width="1.0" />
<polyline points="71.19,475.3 81.88,444.9 86.52,414.5 82.15,384.1 97.48,353.7 162.7,323.3" fill="none" stroke="#000" stroke-width="1.6" stroke-linejoin="round"/>
<circle cx="71.19" cy="475.3" r="4.8" fill="#000" stroke="none" stroke-width="0"/>
<circle cx="81.88" cy="444.9" r="4.8" fill="#000" stroke="none" stroke-width="0"/>
<circle cx="86.52" cy="414.5" r="4.8" fill="#000" stroke="none" stroke-width="0"/>
<circle cx="82.15" cy="384.1" r="4.8" fill="#000" stroke="none" stroke-width="0"/>
<circle cx="97.48" cy="353.7" r="4.8" fill="#000" stroke="none" stroke-width="0"/>
<circle cx="162.7" cy="323.3" r="4.8" fill="#000" stroke="none" stroke-width="0"/>
<line x1="84.22" y1="475.3" x2="94.15" y2="475.3" stroke="#ff3300" stroke-width="1.0" />
<line x1="84.22" y1="471.3" x2="84.22" y2="479.3" stroke="#ff3300" stroke-width="1.0" />
<line x1="94.15" y1="471.3" x2="94.15" y2="479.3" stroke="#ff3300" stroke-width="1.0" />
<line x1="87.02" y1="444.9" x2="114.98" y2="444.9" stroke="#ff3300" stroke-width="1.0" />
<line x1="87.02" y1="440.9" x2="87.02" y2="448.9" stroke="#ff3300" stroke-width="1.0" />
<line x1="114.98" y1="440.9" x2="114.98" y2="448.9" stroke="#ff3300" stroke-width="1.0" />
<line x1="106.82" y1="414.5" x2="119.18" y2="414.5" stroke="#ff3300" stroke-width="1.0" />
<line x1="106.82" y1="410.5" x2="106.82" y2="418.5" stroke="#ff3300" stroke-width="1.0" />
<line x1="119.18" y1="410.5" x2="119.18" y2="418.5" stroke="#ff3300" stroke-width="1.0" />
<line x1="150.84" y1="384.1" x2="278.92" y2="384.1" stroke="#ff3300" stroke-width="1.0" />
<line x1="150.84" y1="380.1" x2="150.84" y2="388.1" stroke="#ff3300" stroke-width="1.0" />
<line x1="278.92" y1="380.1" x2="278.92" y2="388.1" stroke="#ff3300" stroke-width="1.0" />
<polyline points="89.19,475.3 101,444.9 113,414.5 214.88,384.1" fill="none" stroke="#ff3300" stroke-width="1.5" stroke-linejoin="round"/>
<circle cx="89.19" cy="475.3" r="4.2" fill="#0000ff" stroke="#ff3300" stroke-width="1.6"/>
<circle cx="101" cy="444.9" r="4.2" fill="#0000ff" stroke="#ff3300" stroke-width="1.6"/>
<circle cx="113" cy="414.5" r="4.2" fill="#0000ff" stroke="#ff3300" stroke-width="1.6"/>
<circle cx="214.88" cy="384.1" r="4.2" fill="#0000ff" stroke="#ff3300" stroke-width="1.6"/>
<text x="129.6" y="424.85" font-size="17" text-anchor="middle" fill="#000" >*</text>
<text x="117.5" y="448.7" font-size="13.5" text-anchor="start" fill="#000" >ns</text>
<text x="110.5" y="484.95" font-size="17" text-anchor="middle" fill="#000" >*</text>
<text x="287" y="388.6" font-size="13.5" text-anchor="start" fill="#000" >ns</text>
<line x1="410.5" y1="470.07" x2="537.6" y2="470.07" stroke="#d9d9d9" stroke-width="1.0" />
<line x1="410.5" y1="434.54" x2="537.6" y2="434.54" stroke="#d9d9d9" stroke-width="1.0" />
<line x1="410.5" y1="399.01" x2="537.6" y2="399.01" stroke="#d9d9d9" stroke-width="1.0" />
<line x1="410.5" y1="363.48" x2="537.6" y2="363.48" stroke="#d9d9d9" stroke-width="1.0" />
<line x1="410.5" y1="327.95" x2="537.6" y2="327.95" stroke="#d9d9d9" stroke-width="1.0" />
<rect x="431.4" y="327.95" width="21.2" height="177.65" fill="#a6a6a6" fill-opacity="0.8" stroke="#888" stroke-width="1"/>
<rect x="496.4" y="442.7" width="19.8" height="62.9" fill="#4d4dff" fill-opacity="0.85" stroke="#ff3300" stroke-width="1.5"/>
<rect x="410.5" y="292.42" width="127.1" height="213.18" fill="none" stroke="#000" stroke-width="1.3"/>
<line x1="406.2" y1="505.6" x2="410.5" y2="505.6" stroke="#000" stroke-width="1.3" />
<text x="398" y="511.7" font-size="14" text-anchor="end" fill="#000" >0</text>
<line x1="406.2" y1="470.07" x2="410.5" y2="470.07" stroke="#000" stroke-width="1.3" />
<text x="398" y="476.17" font-size="14" text-anchor="end" fill="#000" >1</text>
<line x1="406.2" y1="434.54" x2="410.5" y2="434.54" stroke="#000" stroke-width="1.3" />
<text x="398" y="440.64" font-size="14" text-anchor="end" fill="#000" >2</text>
<line x1="406.2" y1="399.01" x2="410.5" y2="399.01" stroke="#000" stroke-width="1.3" />
<text x="398" y="405.11" font-size="14" text-anchor="end" fill="#000" >3</text>
<line x1="406.2" y1="363.48" x2="410.5" y2="363.48" stroke="#000" stroke-width="1.3" />
<text x="398" y="369.58" font-size="14" text-anchor="end" fill="#000" >4</text>
<line x1="406.2" y1="327.95" x2="410.5" y2="327.95" stroke="#000" stroke-width="1.3" />
<text x="398" y="334.05" font-size="14" text-anchor="end" fill="#000" >5</text>
<line x1="406.2" y1="292.42" x2="410.5" y2="292.42" stroke="#000" stroke-width="1.3" />
<text x="398" y="298.52" font-size="14" text-anchor="end" fill="#000" >6</text>
<line x1="406.2" y1="505.6" x2="537.6" y2="505.6" stroke="#000" stroke-width="1.3" />
<line x1="442" y1="307.7" x2="442" y2="347.85" stroke="#222" stroke-width="1.6" />
<line x1="438" y1="307.7" x2="446" y2="307.7" stroke="#222" stroke-width="1.6" />
<line x1="438" y1="347.85" x2="446" y2="347.85" stroke="#222" stroke-width="1.6" />
<circle cx="442" cy="303.79" r="4.3" fill="#444" stroke="#333" stroke-width="0.4"/>
<circle cx="436.5" cy="327.95" r="4.3" fill="#444" stroke="#333" stroke-width="0.4"/>
<circle cx="447.5" cy="321.55" r="4.3" fill="#444" stroke="#333" stroke-width="0.4"/>
<circle cx="442" cy="359.22" r="4.3" fill="#444" stroke="#333" stroke-width="0.4"/>
<line x1="505.8" y1="436.67" x2="505.8" y2="446.26" stroke="#000" stroke-width="1.6" />
<line x1="503.3" y1="436.67" x2="508.3" y2="436.67" stroke="#000" stroke-width="1.6" />
<line x1="503.3" y1="446.26" x2="508.3" y2="446.26" stroke="#000" stroke-width="1.6" />
<circle cx="505.8" cy="435.61" r="3.7" fill="#1400d0" fill-opacity="0.9" stroke="#ff3300" stroke-width="1.1"/>
<circle cx="511.9" cy="437.38" r="3.7" fill="#1400d0" fill-opacity="0.9" stroke="#ff3300" stroke-width="1.1"/>
<circle cx="499.9" cy="441.65" r="3.7" fill="#1400d0" fill-opacity="0.9" stroke="#ff3300" stroke-width="1.1"/>
<circle cx="506.1" cy="449.11" r="3.7" fill="#1400d0" fill-opacity="0.9" stroke="#ff3300" stroke-width="1.1"/>
<text x="479.5" y="315.05" font-size="17" text-anchor="middle" fill="#000" >*</text>
<text x="418" y="312.1" font-size="16" text-anchor="start" fill="#000" >D</text>
<text x="441.2" y="524.9" font-size="15.8" text-anchor="middle" fill="#000" >Control</text>
<text x="477.3" y="524.9" font-size="15.8" text-anchor="start" fill="#ff3300" >Drought</text>
<text x="476.8" y="544.3" font-size="15.8" text-anchor="start" fill="#000" >-<tspan fill='#0000ff'>rewatering</tspan></text>
<text x="363" y="397.9" font-size="15.8" text-anchor="middle" fill="#000" transform="rotate(-90 363 397.9)">Whole-plant biomass (g)</text>
</svg>
</body></html>
